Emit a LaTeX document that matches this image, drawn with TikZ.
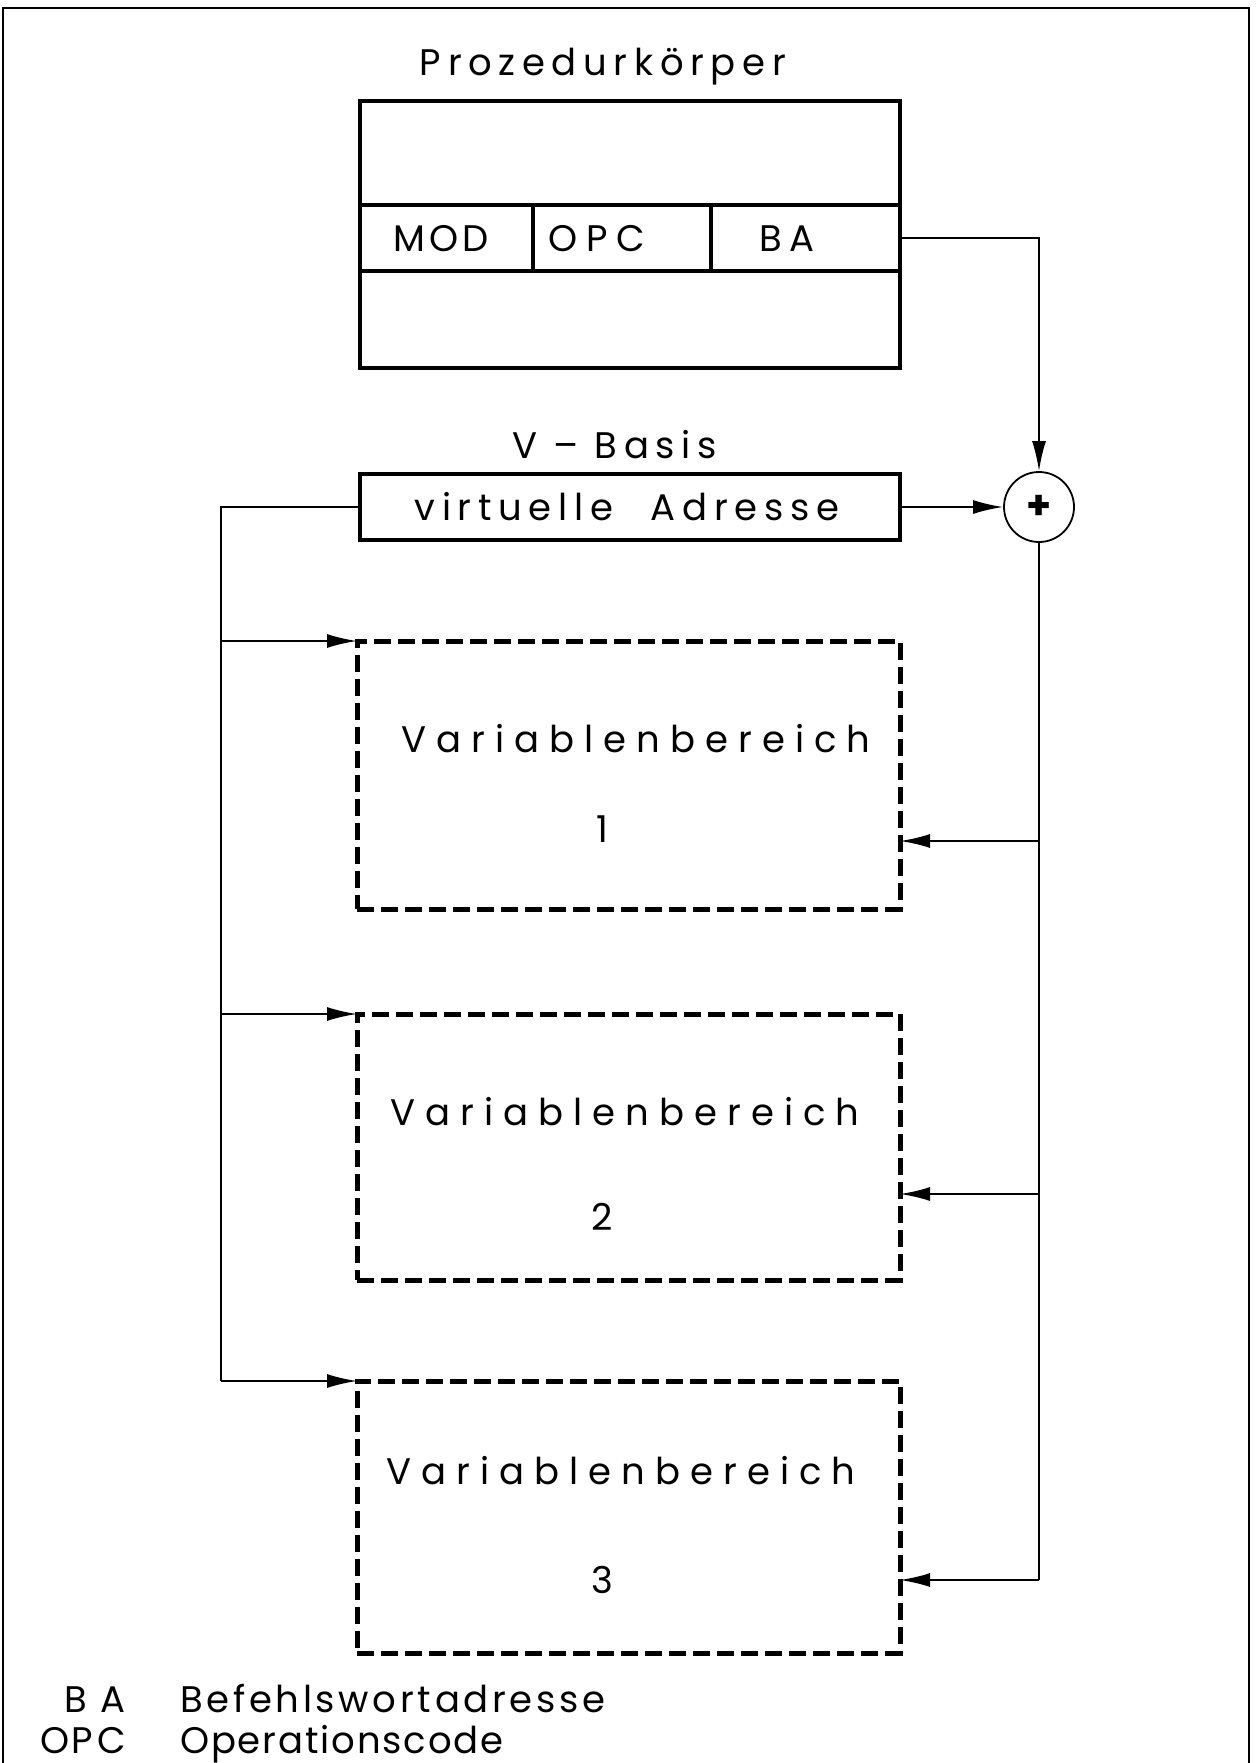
\documentclass[tikz,border=0pt]{standalone}
\usepackage{fontspec}
\setmainfont{Poppins}
\newfontfamily\fwide[LetterSpace=18]{Poppins}
\newfontfamily\fvar[LetterSpace=27]{Poppins}
\newfontfamily\fmid[LetterSpace=10]{Poppins}
\newfontfamily\fopc[LetterSpace=24]{Poppins}
\newfontfamily\fnar[LetterSpace=5]{Poppins}
\usetikzlibrary{arrows.meta}
\begin{document}
\begin{tikzpicture}[x=1pt,y=-1pt,
  thickbox/.style={draw, line width=4.5pt, inner sep=0pt, outer sep=0pt},
  dashbox/.style={draw, line width=5pt, dash pattern=on 17pt off 7pt, inner sep=0pt, outer sep=0pt},
  conn/.style={line width=2pt, -{Latex[length=30pt,width=14pt]}},
  wire/.style={line width=2pt},
  txt/.style={inner sep=0pt, anchor=base, font=\fontsize{37}{40}\selectfont\fwide},
  txtv/.style={inner sep=0pt, anchor=base, font=\fontsize{37}{40}\selectfont\fvar},
  txtm/.style={inner sep=0pt, anchor=base, font=\fontsize{37}{40}\selectfont\fmid}]
\useasboundingbox (0,0) rectangle (1256,1763);
% frame
\draw[line width=1.5pt] (3,1763) -- (3,8) -- (1249,8) -- (1249,1763);
% Prozedurkoerper
\node[txt] (ptitle) at (603,76) {Prozedurkörper};
\node[thickbox, minimum width=540pt, minimum height=267pt] (proz) at (630,234.5) {};
\node[thickbox, minimum width=173pt, minimum height=66pt] (mod) at (446.5,238) {};
\node[thickbox, minimum width=178pt, minimum height=66pt] (opc) at (622,238) {};
\node[thickbox, minimum width=189pt, minimum height=66pt] (ba) at (805.5,238) {};
\node[txtm] (modt) at (441,251) {MOD};
\node[txtm, font=\fontsize{37}{40}\selectfont\fopc] (opct) at (597,251) {OPC};
\node[txtm] (bat) at (787,251) {B\hspace{8pt}A};
% V-Basis
\node[txt] (vbt) at (615,458) {V\hspace{16pt}–\hspace{16pt}Basis};
\node[thickbox, minimum width=540pt, minimum height=66pt] (va) at (630,507) {};
\node[txt] (vat) at (627,520) {virtuelle\hspace{38pt}Adresse};
% adder
\node[draw, circle, line width=1.8pt, minimum size=70pt, inner sep=0pt,
      font=\fontsize{40}{40}\selectfont\bfseries] (plus) at (1039,507) {+};
% variable areas
\node[dashbox, minimum width=543pt, minimum height=268pt] (v1) at (628.5,775) {};
\node[dashbox, minimum width=543pt, minimum height=266pt] (v2) at (628.5,1147) {};
\node[dashbox, minimum width=543pt, minimum height=272pt] (v3) at (628.5,1517) {};
\node[txtv] (v1t) at (636,752) {Variablenbereich};
\node[txtv] (v1n) at (602,842) {1};
\node[txtv] (v2t) at (625,1125) {Variablenbereich};
\node[txtv] (v2n) at (602,1230) {2};
\node[txtv] (v3t) at (621,1484) {Variablenbereich};
\node[txtv] (v3n) at (602,1593) {3};
% legend
\node[txtm, anchor=base east] (lba) at (126,1712) {B\hspace{14pt}A};
\node[txtm, anchor=base east] (lopc) at (126,1753) {O\hspace{2pt}P\hspace{4pt}C};
\node[txtm, anchor=base west] (lbat) at (180,1712) {Befehlswortadresse};
\node[txtm, anchor=base west, font=\fontsize{37}{40}\selectfont\fnar] (lopct) at (180,1753) {Operationscode};
% connectors
\coordinate (r1) at (1039,841);
\coordinate (r2) at (1039,1194);
\coordinate (r3) at (1039,1580);
\coordinate (l0) at (221,507);
\coordinate (l1) at (221,641);
\coordinate (l2) at (221,1014);
\coordinate (l3) at (221,1381);
\draw[conn] (ba.east) -| (plus.north);
\draw[conn] (va.east) -- (plus.west);
\draw[wire] (plus.south) -- (r3);
\draw[conn] (r1) -- (v1.east |- r1);
\draw[conn] (r2) -- (v2.east |- r2);
\draw[conn] (r3) -- (v3.east |- r3);
\draw[wire] (va.west) -- (l0) -- (l3);
\draw[conn] (l1) -- (v1.north west);
\draw[conn] (l2) -- (v2.north west);
\draw[conn] (l3) -- (v3.north west);
\end{tikzpicture}
\end{document}
